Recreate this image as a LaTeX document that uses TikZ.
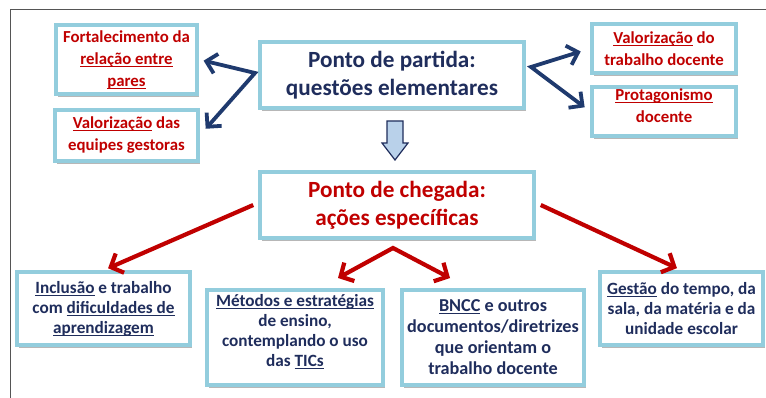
\documentclass[tikz,border=0pt]{standalone}
\usepackage{fontspec}
\setmainfont{Carlito}
\usetikzlibrary{arrows.meta,shadows}
\definecolor{navy}{HTML}{1F2D5C}
\definecolor{rred}{HTML}{C00000}
\definecolor{bord}{HTML}{93CDDD}
\definecolor{arrblue}{HTML}{1F3A6E}
\definecolor{downfill}{HTML}{B9D1EA}
\definecolor{framegray}{HTML}{555555}
\newcommand\ulw[1]{\underline{\smash{#1}}}
\begin{document}
\begin{tikzpicture}[x=1pt,y=-1pt,
  box/.style={draw=bord, line width=3.5pt, fill=white, inner sep=0pt, align=center,
    drop shadow={shadow xshift=2pt, shadow yshift=-3pt, opacity=0.4, fill=black!70}},
  topbox/.style={box, font=\fontsize{16.8}{22}\selectfont\bfseries},
  lowbox/.style={box, font=\fontsize{17.2}{20}\selectfont\bfseries},
  bigbox/.style={box, font=\fontsize{23.2}{28}\selectfont\bfseries},
  barrow/.style={draw=arrblue, line width=3.8pt, line join=miter,
    {Straight Barb[length=10pt,width=20pt]}-{Straight Barb[length=10pt,width=20pt]}},
  rarrow/.style={draw=rred, line width=4.2pt,
    -{Straight Barb[length=10pt,width=21pt]}},
  rvarrow/.style={draw=rred, line width=4.2pt, line join=miter,
    {Straight Barb[length=10pt,width=21pt]}-{Straight Barb[length=10pt,width=21pt]}}
]
\useasboundingbox (0,0) rectangle (766,398);
\fill[white] (0,0) rectangle (766,398);
\draw[framegray, line width=1pt] (10,398) -- (10,10) -- (766,10);

\node[topbox, text=rred, minimum width=141pt, minimum height=69pt] (A) at (126.5,59.5)
  {Fortalecimento da\\ \ulw{relação entre}\\ \ulw{pares}};
\node[topbox, text=rred, minimum width=143pt, minimum height=51pt] (B) at (126.5,135.5)
  {\ulw{Valorização} das\\ equipes gestoras};
\node[bigbox, text=navy, minimum width=264pt, minimum height=66pt] (C) at (392,75)
  {Ponto de partida:\\ questões elementares};
\node[topbox, text=rred, minimum width=144pt, minimum height=49pt] (D) at (664,48.5)
  {\ulw{Valorização} do\\ trabalho docente};
\node[topbox, text=rred, minimum width=144pt, minimum height=49pt] (E) at (664,111.5)
  {\ulw{Protagonismo}\\ docente};
\node[bigbox, text=rred, minimum width=274pt, minimum height=66pt] (F) at (397,205)
  {Ponto de chegada:\\ ações específicas};
\node[lowbox, text=navy, minimum width=173pt, minimum height=73pt] (G) at (103.5,308.5)
  {\ulw{Inclusão} e trabalho\\ com \ulw{dificuldades de}\\ \ulw{aprendizagem}};
\node[lowbox, text=navy, minimum width=176pt, minimum height=95pt] (H) at (295,337.5)
  {\ulw{Métodos e estratégias}\\ de ensino,\\ contemplando o uso\\ das \ulw{TICs}};
\node[lowbox, font=\fontsize{18.2}{21}\selectfont\bfseries, text=navy, minimum width=182pt, minimum height=95pt] (I) at (493,337.5)
  {\ulw{BNCC} e outros\\ documentos/diretrizes\\ que orientam o\\ trabalho docente};
\node[lowbox, text=navy, minimum width=163pt, minimum height=73pt] (J) at (681.5,308.5)
  {\ulw{Gestão} do tempo, da\\ sala, da matéria e da\\ unidade escolar};

% down arrow
\draw[fill=downfill, draw=navy, line width=1.2pt, line join=miter]
  (387,121) -- (403,121) -- (403,143) -- (408,143) -- (395,160) -- (382,143) -- (387,143) -- cycle;

% blue arrows
\coordinate (cl) at (255,73);
\coordinate (cr) at (531,67);
\draw[barrow, shorten <=5pt, shorten >=9pt] (A.east) -- (cl) -- (B.east);
\draw[barrow, shorten <=10pt, shorten >=7pt] (D.west) -- (cr) -- (E.west);

% red arrows
\coordinate (fs) at (393,248);
\coordinate (hn) at (338,278);
\coordinate (in) at (450,278);
\draw[rarrow, shorten >=5pt] ([xshift=-5pt]F.west) -- (G.north);
\draw[rarrow, shorten >=5pt] ([xshift=5pt]F.east) -- (J.north);
\draw[rvarrow] (hn) -- (fs) -- (in);
\end{tikzpicture}
\end{document}
